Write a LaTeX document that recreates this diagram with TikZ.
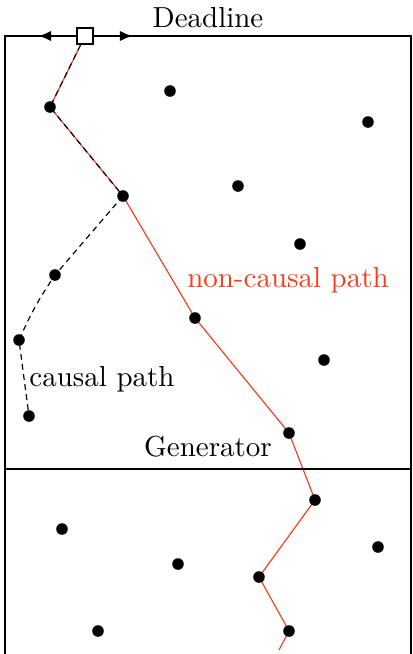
\documentclass[tikz,border=0pt]{standalone}
\usetikzlibrary{arrows.meta,backgrounds}
\definecolor{pathred}{RGB}{250,60,30}
\begin{document}
\begin{tikzpicture}[x=0.345pt,y=-0.345pt,
  dot/.style={circle,fill=black,inner sep=0pt,minimum size=4pt},
  frame/.style={line width=0.8pt},
  redpath/.style={draw=pathred,line width=0.4pt},
  causal/.style={dashed,line width=0.4pt,dash pattern=on 2pt off 1.5pt},
  lbl/.style={inner sep=0pt}]
\useasboundingbox (0,0) rectangle (413,654);
% frame
\draw[frame] (5,654) -- (5,36) -- (411,36) -- (411,654);
\draw[frame] (5,469) -- (411,469);
% square on deadline
\node[draw,fill=white,line width=0.7pt,minimum size=5.2pt,inner sep=0pt] (sq) at (85,36) {};
\coordinate (al) at (38,36);
\coordinate (ar) at (133,36);
\draw[frame,-{Latex[length=4.5pt,width=3.6pt]}] (sq) -- (al);
\draw[frame,-{Latex[length=4.5pt,width=3.6pt]}] (sq) -- (ar);
% dots
\node[dot] (a1) at (50,107) {};
\node[dot] (b1) at (170,91) {};
\node[dot] (b2) at (368,122) {};
\node[dot] (a2) at (123,196) {};
\node[dot] (b3) at (238,186) {};
\node[dot] (b4) at (300,244) {};
\node[dot] (c1) at (55,275) {};
\node[dot] (c2) at (19,340) {};
\node[dot] (a3) at (195,318) {};
\node[dot] (b5) at (324,360) {};
\node[dot] (c3) at (29,416) {};
\node[dot] (a4) at (289,433) {};
\node[dot] (a5) at (315,500) {};
\node[dot] (b6) at (62,529) {};
\node[dot] (b7) at (378,547) {};
\node[dot] (b8) at (178,564) {};
\node[dot] (a6) at (259,577) {};
\node[dot] (b9) at (98,631) {};
\node[dot] (a7) at (289,631) {};
\coordinate (aend) at (279,650);
% paths
\begin{scope}[on background layer]
\draw[redpath] (sq.center) -- (a1.center) -- (a2.center) -- (a3.center) -- (a4.center)
  -- (a5.center) -- (a6.center) -- (a7.center) -- (aend);
\draw[causal,xshift=0.7pt] (sq.center) -- (a1.center) -- (a2.center);
\draw[causal] (a2.center) -- (c1.center) to[bend right=5] (c2.center) -- (c3.center);
\end{scope}
% labels
\node[lbl] (tdead) at (208,18) {Deadline};
\node[lbl,text=pathred] (tnc) at (288,280) {non-causal path};
\node[lbl] (tc) at (102,379) {causal path};
\node[lbl] (tgen) at (208,447) {Generator};
\end{tikzpicture}
\end{document}
